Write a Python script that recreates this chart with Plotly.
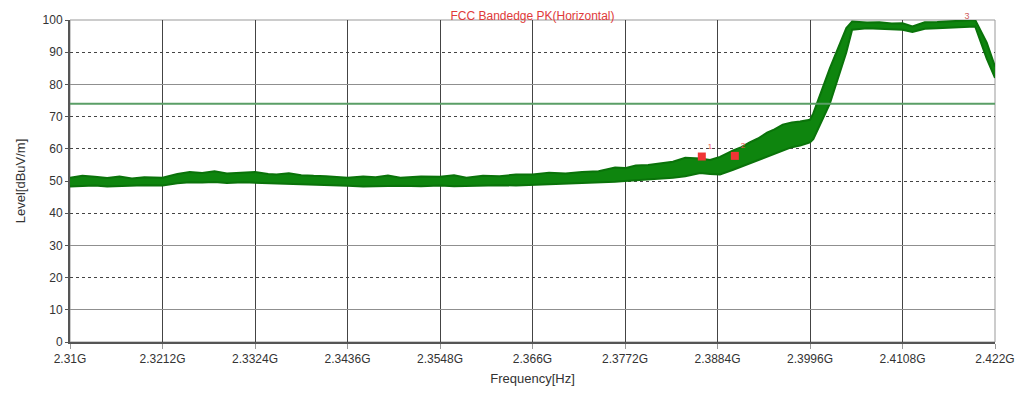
import plotly.graph_objects as go

# ---- data ----
freq_ghz = [2.3100, 2.3115, 2.3130, 2.3145, 2.3160, 2.3175, 2.3190, 2.3212, 2.3230, 2.3245,
            2.3260, 2.3275, 2.3290, 2.3310, 2.3324, 2.3340, 2.3350, 2.3365, 2.3380, 2.3395,
            2.3410, 2.3436, 2.3455, 2.3470, 2.3485, 2.3500, 2.3525, 2.3548, 2.3565, 2.3580,
            2.3600, 2.3620, 2.3640, 2.3660, 2.3680, 2.3700, 2.3720, 2.3740, 2.3760, 2.3772,
            2.3785, 2.3800, 2.3815, 2.3830, 2.3845, 2.3863, 2.3875, 2.3887, 2.3903, 2.3913,
            2.3923, 2.3933, 2.3944, 2.3953, 2.3963, 2.3974, 2.3984, 2.3996, 2.4000, 2.4020,
            2.4040, 2.4047, 2.4065, 2.4080, 2.4095, 2.4108, 2.4120, 2.4135, 2.4150, 2.4160,
            2.4175, 2.4196, 2.4210, 2.4220]
level_upper = [51.0, 51.6, 51.3, 50.9, 51.4, 50.8, 51.2, 51.0, 52.2, 52.8,
               52.5, 53.0, 52.3, 52.6, 52.8, 52.2, 52.0, 52.4, 51.8, 51.6,
               51.5, 51.0, 51.4, 51.2, 51.7, 51.0, 51.4, 51.3, 51.8, 51.0,
               51.6, 51.5, 52.0, 52.0, 52.6, 52.3, 52.8, 53.0, 54.2, 54.0,
               54.8, 55.0, 55.6, 56.0, 57.2, 57.0, 56.5, 57.5, 59.5, 60.5,
               62.0, 63.2, 65.0, 66.0, 67.5, 68.2, 68.5, 69.0, 71.0, 85.0,
               97.5, 99.5, 99.2, 99.3, 98.9, 99.0, 98.0, 99.3, 99.4, 99.5,
               99.6, 100.0, 93.0, 85.5]
level_lower = [48.3, 48.5, 48.6, 48.3, 48.5, 48.6, 48.7, 48.6, 49.3, 49.6,
               49.5, 49.7, 49.4, 49.6, 49.5, 49.2, 49.3, 49.1, 49.0, 48.8,
               48.8, 48.5, 48.3, 48.4, 48.6, 48.5, 48.4, 48.6, 48.4, 48.5,
               48.6, 48.7, 48.6, 48.8, 48.9, 49.0, 49.2, 49.5, 49.8, 50.0,
               50.2, 50.5, 50.8, 51.0, 51.5, 52.5, 52.2, 52.0, 53.5, 54.5,
               55.5, 56.5, 57.5, 58.5, 59.5, 60.5, 61.0, 62.0, 63.0, 74.0,
               90.0, 97.0, 97.4, 97.3, 97.2, 97.0, 96.3, 97.3, 97.4, 97.5,
               97.6, 98.0, 88.0, 82.0]

limit_level = 74.0
marker_freq = [2.3865, 2.3905]
marker_level = [57.6, 57.8]
marker_names = ["1", "2"]
peak_marker_freq = 2.4186
peak_marker_level = 99.5
peak_marker_name = "3"

x_tickvals = [2.31, 2.3212, 2.3324, 2.3436, 2.3548, 2.366, 2.3772, 2.3884, 2.3996, 2.4108, 2.422]
x_ticktext = ["2.31G", "2.3212G", "2.3324G", "2.3436G", "2.3548G", "2.366G",
              "2.3772G", "2.3884G", "2.3996G", "2.4108G", "2.422G"]
y_tickvals = [0, 10, 20, 30, 40, 50, 60, 70, 80, 90, 100]
y_dotted_grid = [20, 40, 50, 60, 70, 90]
y_solid_grid = [10, 30, 80]

fig = go.Figure()

fig.add_trace(go.Scatter(x=freq_ghz, y=level_upper, mode="lines",
                         line=dict(color="#0a730a", width=2), showlegend=False, hoverinfo="skip"))
fig.add_trace(go.Scatter(x=freq_ghz, y=level_lower, mode="lines", fill="tonexty",
                         fillcolor="#0e850e",
                         line=dict(color="#0a730a", width=2), showlegend=False, hoverinfo="skip"))

fig.add_trace(go.Scatter(x=[x_tickvals[0], x_tickvals[-1]], y=[limit_level, limit_level],
                         yaxis="y2",
                         mode="lines", line=dict(color="#5a9e66", width=2),
                         showlegend=False, hoverinfo="skip"))

fig.add_trace(go.Scatter(x=marker_freq, y=marker_level, mode="markers+text",
                         marker=dict(symbol="square", size=8, color="#f03535"),
                         text=marker_names, textposition="top right",
                         textfont=dict(color="#f05050", size=8, family="Liberation Sans"),
                         showlegend=False))
fig.add_trace(go.Scatter(x=[peak_marker_freq], y=[peak_marker_level], mode="text",
                         text=[peak_marker_name], textposition="top center",
                         textfont=dict(color="#d06060", size=9, family="Liberation Sans"),
                         showlegend=False, cliponaxis=False))

tick_font = dict(family="Liberation Sans, Arial, sans-serif", size=12, color="#333333")
title_font = dict(family="Liberation Sans, Arial, sans-serif", size=13, color="#333333")

# page body has an 8px margin; figure sized so the plot area lands at x 70-995, y 20-342
fig.update_layout(
    width=1007, height=378,
    margin=dict(l=62, r=20, t=12, b=44, autoexpand=False),
    paper_bgcolor="white", plot_bgcolor="white",
    title=dict(text="FCC Bandedge PK(Horizontal)", xref="paper", x=0.5, xanchor="center",
               yref="container", y=1 - 8 / 378, yanchor="middle",
               font=dict(family="Liberation Sans, Arial, sans-serif", size=12, color="#e03a3a")),
    xaxis=dict(range=[x_tickvals[0], x_tickvals[-1]], tickvals=x_tickvals, ticktext=x_ticktext,
               automargin=False,
               showgrid=True, gridcolor="#444444", gridwidth=1,
               showline=True, linecolor="#555555", linewidth=2, mirror=False,
               ticks="outside", ticklen=5, tickcolor="#999999",
               tickfont=tick_font, zeroline=False,
               title=dict(text="Frequency[Hz]", font=title_font, standoff=9)),
    yaxis=dict(range=[0, 100], tickvals=y_tickvals, automargin=False,
               showgrid=False,
               minor=dict(tickvals=y_dotted_grid, showgrid=True, gridcolor="#444444",
                          gridwidth=1, griddash="dot", ticks=""),
               showline=True, linecolor="#555555", linewidth=2,
               ticks="outside", ticklen=3, tickcolor="#555555",
               tickfont=tick_font, zeroline=False,
               title=dict(text="Level[dBuV/m]", font=title_font, standoff=14)),
    yaxis2=dict(range=[0, 100], overlaying="y", side="left", tickvals=y_solid_grid,
                showticklabels=False, ticks="", showline=False, zeroline=False,
                automargin=False,
                showgrid=True, gridcolor="#8f8f8f", gridwidth=1),
    shapes=[dict(type="rect", xref="paper", yref="paper", x0=0, y0=0, x1=1, y1=1,
                 line=dict(color="#999999", width=1), layer="below")],
)

fig.write_html("out.html")
